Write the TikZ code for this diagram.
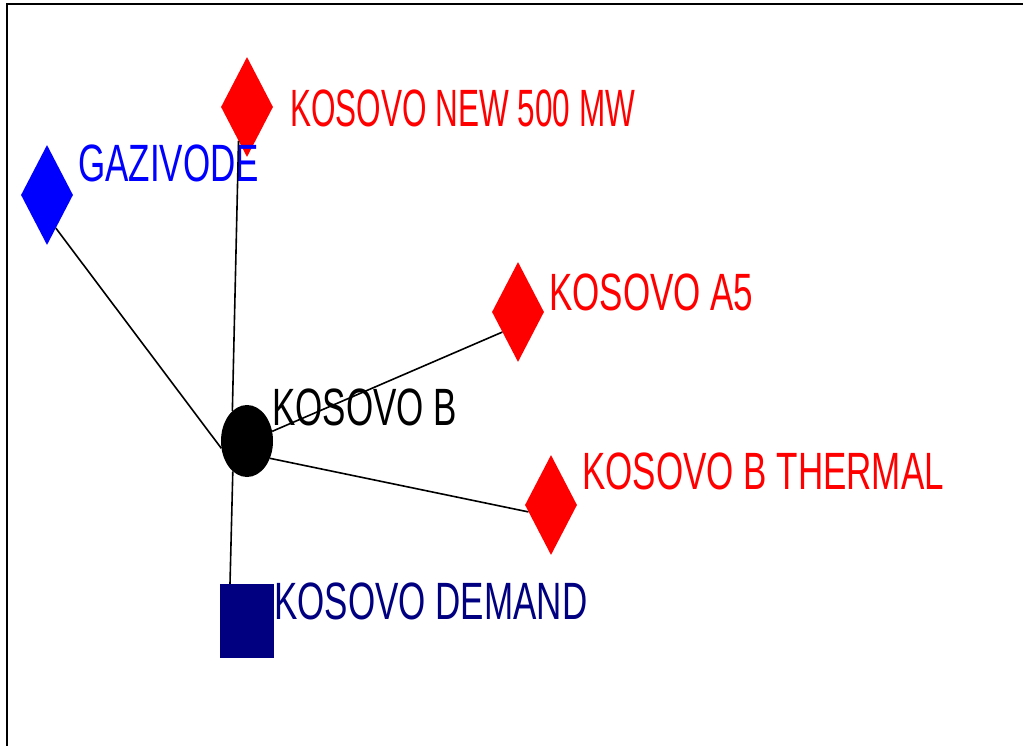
\documentclass[tikz,border=0pt]{standalone}
\usepackage{graphicx}
\usepackage{fontspec}
\setmainfont{Liberation Sans}
\usetikzlibrary{shapes.geometric}

\definecolor{genred}{RGB}{255,0,0}
\definecolor{hydroblue}{RGB}{0,0,255}
\definecolor{loadnavy}{RGB}{0,0,128}

\newcommand{\tall}[2][1]{\scalebox{#1}[1.5]{#2}}

\tikzset{
  gen/.style={diamond, fill=#1, draw=none, inner sep=0pt, minimum width=52pt, minimum height=100pt},
  bus/.style={ellipse, fill=black, inner sep=0pt, minimum width=52pt, minimum height=72pt},
  load/.style={rectangle, fill=loadnavy, inner sep=0pt, minimum width=54pt, minimum height=74pt},
  lbl/.style={anchor=west, inner sep=0pt, text=#1, font=\fontsize{35}{40}\selectfont},
  tie/.style={draw=black, line width=1.6pt}
}

\begin{document}
\begin{tikzpicture}[x=1pt,y=-1pt]
    \useasboundingbox (0,0) rectangle (1023,746);
    \draw[line width=1.8pt] (7,746) -- (7,4) -- (1023,4);

    \node[gen=genred] (N) at (247,107) {};
    \node[gen=hydroblue] (G) at (47,195) {};
    \node[gen=genred] (A) at (518,312) {};
    \node[bus] (B) at (247,441) {};
    \node[gen=genred] (T) at (551,505) {};
    \node[load] (D) at (247,621) {};

    \node[lbl=genred] (Nl) at (290,108) {\tall[0.9]{KOSOVO NEW 500 MW}};
    \node[lbl=hydroblue] (Gl) at (78,163) {\tall{GAZIVODE}};
    \node[lbl=genred] (Al) at (549,292) {\tall{KOSOVO A5}};
    \node[lbl=black] (Bl) at (272,407) {\tall{KOSOVO B}};
    \node[lbl=genred] (Tl) at (582,471) {\tall{KOSOVO B THERMAL}};
    \node[lbl=loadnavy] (Dl) at (274,601) {\tall{KOSOVO DEMAND}};

    \draw[tie] (N.256) -- (B.116);
    \draw[tie] (B.245) -- ([xshift=-17pt]D.north);
    \draw[tie] (G.-75) -- (B.196);
    \draw[tie] (B.21) -- (A.232);
    \draw[tie] (B.-37) -- (T.197);
\end{tikzpicture}
\end{document}
